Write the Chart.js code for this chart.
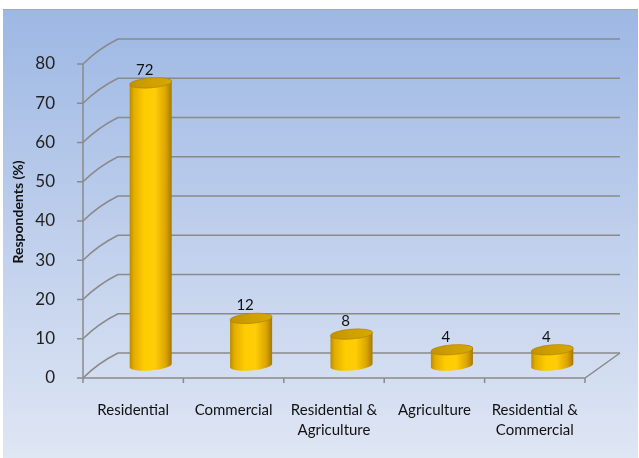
<!DOCTYPE html>
<html>
<head>
<meta charset="utf-8">
<script src="https://cdn.jsdelivr.net/npm/chart.js@4"></script>
<style>
  html, body { margin: 0; padding: 0; background: #fff; }
  #wrap { width: 639px; height: 458px; }
</style>
</head>
<body>
<div id="wrap"><canvas id="landUse"></canvas></div>
<script>
const categories = [
  'Residential',
  'Commercial',
  ['Residential &', 'Agriculture'],
  'Agriculture',
  ['Residential &', 'Commercial'],
]
const respondents = [72, 12, 8, 4, 4]

const yMin = 0
const yMax = 80
const yStep = 10
const yTitle = 'Respondents (%)'

// depth of the 3d box (back wall offset from the front plane)
const depthX = 35
const depthY = -25
const gridColor = '#8a8a8a'

const drawCylinder = (ctx, cx, top, bottom, rx, ry) => {
  const rot = -0.08
  const body = ctx.createLinearGradient(cx - rx, 0, cx + rx, 0)
  body.addColorStop(0, '#b88a00')
  body.addColorStop(0.1, '#e2ad00')
  body.addColorStop(0.35, '#ffcc00')
  body.addColorStop(0.6, '#ffcd08')
  body.addColorStop(0.85, '#dca600')
  body.addColorStop(1, '#a57900')

  ctx.beginPath()
  ctx.ellipse(cx, bottom, rx, ry, rot, Math.PI, 0, true)
  ctx.ellipse(cx, top, rx, ry, rot, 0, Math.PI, true)
  ctx.closePath()
  ctx.fillStyle = body
  ctx.fill()

  const cap = ctx.createLinearGradient(cx - rx, 0, cx + rx, 0)
  cap.addColorStop(0, '#c39300')
  cap.addColorStop(0.5, '#cfa000')
  cap.addColorStop(1, '#d6a800')
  ctx.beginPath()
  ctx.ellipse(cx, top, rx, ry, rot, 0, Math.PI * 2)
  ctx.fillStyle = cap
  ctx.fill()
  ctx.strokeStyle = 'rgba(150,110,0,0.5)'
  ctx.lineWidth = 0.8
  ctx.stroke()
}

const threeD = {
  id: 'threeD',
  beforeDraw(chart) {
    const ctx = chart.ctx
    const g = ctx.createLinearGradient(0, 9, 0, 458)
    g.addColorStop(0, '#9db8e4')
    g.addColorStop(0.5, '#bfcfec')
    g.addColorStop(1, '#dfe6f4')
    ctx.save()
    ctx.fillStyle = g
    ctx.fillRect(3, 9, 635, 449)
    ctx.strokeStyle = '#a8a8a8'
    ctx.lineWidth = 1
    ctx.beginPath()
    ctx.moveTo(3, 9.5)
    ctx.lineTo(638, 9.5)
    ctx.stroke()

    // value axis title, a bit above the middle of the axis
    ctx.translate(18, 212)
    ctx.rotate(-Math.PI / 2)
    ctx.fillStyle = '#111'
    ctx.font = 'bold 14px Lato'
    ctx.textAlign = 'center'
    ctx.textBaseline = 'middle'
    ctx.fillText(yTitle, 0, 0)
    ctx.restore()
  },
  beforeDatasetsDraw(chart) {
    const { ctx, chartArea: a, scales: { y } } = chart
    ctx.save()
    ctx.strokeStyle = gridColor
    ctx.lineWidth = 1.5

    // side wall + back wall gridlines
    y.ticks.forEach((t) => {
      const py = y.getPixelForValue(t.value)
      ctx.beginPath()
      ctx.moveTo(a.left - 6, py)
      ctx.lineTo(a.left, py)
      ctx.quadraticCurveTo(a.left + 15, py - 15, a.left + depthX, py + depthY)
      ctx.lineTo(a.right + depthX, py + depthY)
      ctx.stroke()
    })

    // front value axis
    ctx.beginPath()
    ctx.moveTo(a.left, a.top)
    ctx.lineTo(a.left, a.bottom)
    ctx.stroke()

    // floor front edge and right edge
    ctx.beginPath()
    ctx.moveTo(a.left, a.bottom)
    ctx.lineTo(a.right, a.bottom)
    ctx.lineTo(a.right + depthX, a.bottom + depthY)
    ctx.stroke()

    // category tick marks
    const n = categories.length
    for (let i = 0; i <= n; i++) {
      const px = a.left + (i * (a.right - a.left)) / n
      ctx.beginPath()
      ctx.moveTo(px, a.bottom)
      ctx.lineTo(px, a.bottom + 5)
      ctx.stroke()
    }
    ctx.restore()
  },
  afterDatasetsDraw(chart) {
    const ctx = chart.ctx
    const meta = chart.getDatasetMeta(0)
    ctx.save()
    meta.data.forEach((bar, i) => {
      const cx = bar.x + depthX / 2
      const top = bar.y + depthY / 2
      const bottom = bar.base + depthY / 2
      drawCylinder(ctx, cx, top, bottom, bar.width / 2, 5)

      ctx.fillStyle = '#111'
      ctx.font = '15px Lato'
      ctx.textAlign = 'center'
      ctx.textBaseline = 'middle'
      ctx.fillText(String(respondents[i]), cx - 6, top - 13)
    })
    ctx.restore()
  },
}

const landUse = new Chart('landUse', {
  type: 'bar',
  data: {
    labels: categories,
    datasets: [
      {
        label: yTitle,
        data: respondents,
        backgroundColor: 'rgba(0,0,0,0)',
        barPercentage: 1,
        categoryPercentage: 0.42,
      },
    ],
  },
  options: {
    responsive: true,
    maintainAspectRatio: false,
    animation: false,
    events: [],
    layout: { padding: { top: 64, right: 54, bottom: 0, left: 0 } },
    plugins: {
      legend: { display: false },
      tooltip: { enabled: false },
    },
    scales: {
      x: {
        grid: { display: false },
        border: { display: false },
        afterFit: (scale) => { scale.height = 80 },
        ticks: {
          autoSkip: false,
          maxRotation: 0,
          padding: 14,
          color: '#111',
          font: { family: 'Lato', size: 15, lineHeight: 1.35 },
        },
      },
      y: {
        min: yMin,
        max: yMax,
        grid: { display: false },
        border: { display: false },
        afterFit: (scale) => { scale.width = 83 },
        ticks: {
          stepSize: yStep,
          padding: 20,
          color: '#222',
          font: { family: 'Lato', size: 17 },
        },
      },
    },
  },
  plugins: [threeD],
})
</script>
</body>
</html>
